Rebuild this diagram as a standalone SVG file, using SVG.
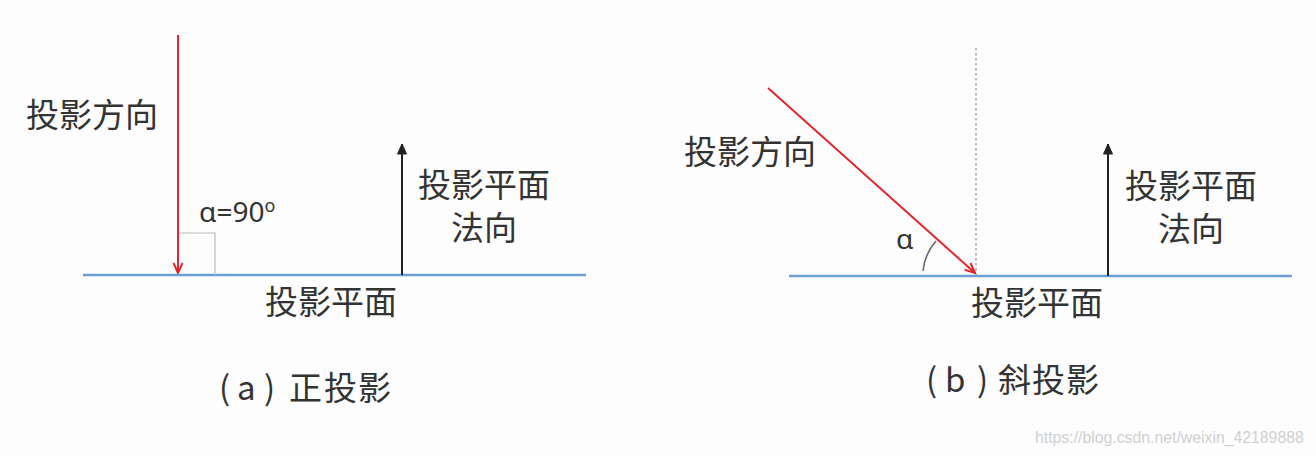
<svg xmlns="http://www.w3.org/2000/svg" width="1316" height="456" viewBox="0 0 1316 456">
<defs>
<style>
.t{font-family:"Noto Sans CJK SC","Noto Sans",sans-serif;fill:#333;font-size:33px}
.g{font-family:"Noto Sans","Noto Sans CJK SC",sans-serif;fill:#333;font-size:28px}
.plane{stroke:#6a9fd4;stroke-width:2.5;fill:none}
.red{stroke:#e3262b;stroke-width:2;fill:none}
.blk{stroke:#222;stroke-width:2;fill:none}
.wm{font-family:"Liberation Sans",Arial,sans-serif;fill:#d0d0d0;font-size:15.8px}
</style>
<marker id="ar" viewBox="0 0 12 12" refX="11" refY="6" markerWidth="12" markerHeight="12" markerUnits="userSpaceOnUse" orient="auto">
<path d="M1,1.5 L11,6 L1,10.5" fill="none" stroke="#e3262b" stroke-width="2"/>
</marker>
<marker id="ab" viewBox="0 0 12 12" refX="11" refY="6" markerWidth="12" markerHeight="12" markerUnits="userSpaceOnUse" orient="auto">
<path d="M1,1.5 L11,6 L1,10.5 Z" fill="#222" stroke="#222" stroke-width="1"/>
</marker>
</defs>
<rect width="1316" height="456" fill="#fdfdfd"/>

<g id="panel-a">
  <g id="a-plane"><line class="plane" x1="83" y1="275" x2="586" y2="275"/><text class="t" x="331" y="314" text-anchor="middle">投影平面</text></g>
  <g id="a-angle"><path d="M178,233 H215 V275" fill="none" stroke="#bbb" stroke-width="1.2"/><text class="g" x="199" y="222">α=90<tspan font-size="18" dy="-10">o</tspan></text></g>
  <g id="a-dir"><text class="t" x="26" y="127">投影方向</text></g>
  <g id="a-normal"><text class="t" x="484" y="197" text-anchor="middle">投影平面</text><text class="t" x="484" y="240" text-anchor="middle">法向</text></g>
  <text class="t" x="219 237 264 289 324 358" y="400">(a)正投影</text>
</g>

<g id="panel-b">
  <g id="b-plane"><line class="plane" x1="789" y1="276" x2="1292" y2="276"/><text class="t" x="1037" y="315" text-anchor="middle">投影平面</text></g>
  <line x1="976" y1="48" x2="976" y2="275" stroke="#999" stroke-width="1.3" stroke-dasharray="2.5,2.5"/>
  <g id="b-dir"><text class="t" x="684" y="164">投影方向</text></g>
  <g id="b-angle"><path d="M923,271 A53,53 0 0 1 936,241" fill="none" stroke="#666" stroke-width="1.5"/><text class="g" x="896" y="249">α</text></g>
  <g id="b-normal"><text class="t" x="1191" y="198" text-anchor="middle">投影平面</text><text class="t" x="1191" y="241" text-anchor="middle">法向</text></g>
  <text class="t" x="926 945 977 998 1032 1066" y="392">(b)斜投影</text>
</g>

<g id="connectors">
  <line class="red" x1="178" y1="35" x2="178" y2="273" marker-end="url(#ar)"/>
  <line class="blk" x1="402" y1="275" x2="402" y2="144" marker-end="url(#ab)"/>
  <line class="red" x1="768" y1="88" x2="975" y2="273" marker-end="url(#ar)"/>
  <line class="blk" x1="1108" y1="276" x2="1108" y2="144" marker-end="url(#ab)"/>
</g>

<text class="wm" x="1035" y="443">https://blog.csdn.net/weixin_42189888</text>
</svg>
